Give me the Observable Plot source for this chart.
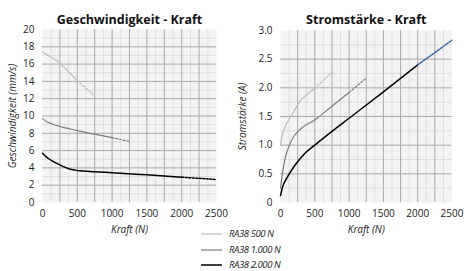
<!DOCTYPE html>
<html>
<head>
<meta charset="utf-8">
<script src="https://cdn.jsdelivr.net/npm/d3@7"></script>
<script src="https://cdn.jsdelivr.net/npm/@observablehq/plot@0.6"></script>
<style>
  body { margin:0; width:464px; height:271px; position:relative; background:#fff; font-family:"Open Sans", sans-serif; overflow:hidden; }
  #left { position:absolute; left:0; top:0; }
  #right { position:absolute; left:232px; top:0; }
  #legend { position:absolute; left:201px; top:226px; font-size:9.5px; font-style:italic; color:#222; letter-spacing:-0.4px; line-height:12px; }
  #legend .row { display:flex; align-items:center; height:15.8px; }
  #legend svg { margin-right:7px; }
</style>
</head>
<body>
<div id="left"></div>
<div id="right"></div>
<div id="legend"></div>
<script>
// ---- labels & ticks ----
const leftTitle = "Geschwindigkeit - Kraft";
const rightTitle = "Stromstärke - Kraft";
const xLabel = "Kraft (N)";
const leftYLabel = "Geschwindigkeit (mm/s)";
const rightYLabel = "Stromstärke (A)";
const kraftTicks = [0, 500, 1000, 1500, 2000, 2500];
const speedTicks = [0, 2, 4, 6, 8, 10, 12, 14, 16, 18, 20];
const currentTicks = [0, 0.5, 1.0, 1.5, 2.0, 2.5, 3.0];

// ---- series ----
const seriesNames = ["RA38 500 N", "RA38 1.000 N", "RA38 2.000 N"];
const ratedForce = [500, 1000, 2000];

// Geschwindigkeit (mm/s) vs Kraft (N)
const speed500F = [0, 125, 250, 375, 500, 625, 750];
const speed500V = [17.4, 16.8, 16.1, 15.1, 14.1, 13.2, 12.3];
const speed1000F = [0, 50, 100, 200, 350, 500, 750, 1000, 1250];
const speed1000V = [9.7, 9.4, 9.2, 8.9, 8.6, 8.3, 7.9, 7.5, 7.05];
const speed2000F = [0, 50, 100, 200, 300, 400, 500, 750, 1000, 1500, 2000, 2500];
const speed2000V = [5.7, 5.3, 5.0, 4.55, 4.15, 3.85, 3.7, 3.55, 3.45, 3.2, 2.93, 2.65];

// Stromstärke (A) vs Kraft (N)
const cur500F = [0, 20, 60, 130, 200, 280, 400, 500, 750];
const cur500V = [1.0, 1.15, 1.3, 1.46, 1.6, 1.76, 1.9, 1.99, 2.27];
const cur1000F = [0, 15, 60, 150, 300, 500, 750, 1000, 1250];
const cur1000V = [0.25, 0.4, 0.73, 1.06, 1.29, 1.44, 1.68, 1.92, 2.17];
const cur2000F = [0, 30, 90, 230, 350, 500, 750, 1000, 1500, 2000, 2500];
const cur2000V = [0.12, 0.27, 0.42, 0.68, 0.85, 1.0, 1.24, 1.47, 1.93, 2.4, 2.83];

// ---- styles ----
const lineColors = ["#bdbdbd", "#7d7d7d", "#000000"];
const lineWidths = [1.2, 1.2, 1.5];
const bg = "#f3f3f3", minorGrid = "#dedede", majorGrid = "#a9a9a9";

function seriesMarks(F, V, rated, color, width, dashColor, dash) {
  const pts = F.map((f, i) => ({f, v: V[i]}));
  return [
    Plot.line(pts.filter(d => d.f <= rated), {x: "f", y: "v", stroke: color, strokeWidth: width, curve: "monotone-x"}),
    Plot.line(pts.filter(d => d.f >= rated), {x: "f", y: "v", stroke: dashColor, strokeWidth: width, strokeDasharray: dash, curve: "monotone-x"})
  ];
}

const kraftMinor = d3.range(125, 2500, 250);
const kraftMajor = d3.range(250, 2500, 250);

function makeChart({title, yLabel, yDomain, yTicks, yFormat, yMinor, yMajor, series, marginLeft, marginRight, marginTop, yLabelDx, dashLast}) {
  return Plot.plot({
    width: 232, height: 245,
    marginLeft, marginRight, marginTop, marginBottom: 43,
    style: {fontFamily: "'Open Sans', sans-serif", fontSize: "10px", color: "#222", background: "transparent", overflow: "visible"},
    x: {domain: [0, 2500], ticks: kraftTicks, tickSize: 0, tickPadding: 7, tickFormat: d => String(d), label: null},
    y: {domain: yDomain, ticks: yTicks, tickSize: 0, tickPadding: 8, tickFormat: yFormat, label: null},
    marks: [
      Plot.frame({fill: bg, stroke: null}),
      Plot.ruleX(kraftMinor, {stroke: minorGrid, strokeWidth: 1}),
      Plot.ruleY(yMinor, {stroke: minorGrid, strokeWidth: 1}),
      Plot.ruleX(kraftMajor, {stroke: majorGrid, strokeWidth: 1}),
      Plot.ruleY(yMajor, {stroke: majorGrid, strokeWidth: 1}),
      ...series.flatMap(([F, V], i) => seriesMarks(F, V, ratedForce[i], lineColors[i], lineWidths[i],
          i === 2 ? dashLast : lineColors[i], i === 2 ? "2,1.5" : "2,1.8")),
      Plot.text([title], {frameAnchor: "top", dy: -marginTop + 15, fontWeight: "bold", fontSize: 12.5, fill: "#111"}),
      Plot.text([xLabel], {frameAnchor: "bottom", dy: 30, fontStyle: "italic", fontSize: 10, fill: "#222"}),
      Plot.text([yLabel], {frameAnchor: "left", textAnchor: "middle", dx: yLabelDx, rotate: -90, fontStyle: "italic", fontSize: 10, fill: "#222"})
    ]
  });
}

const left = makeChart({
  title: leftTitle, yLabel: leftYLabel, yDomain: [0, 20], yTicks: speedTicks, yFormat: d => String(d),
  yMinor: d3.range(1, 20, 2), yMajor: d3.range(2, 20, 2),
  series: [[speed500F, speed500V], [speed1000F, speed1000V], [speed2000F, speed2000V]],
  marginLeft: 42, marginRight: 16, marginTop: 29, yLabelDx: -30, dashLast: "#000"
});
document.getElementById("left").appendChild(left);

const right = makeChart({
  title: rightTitle, yLabel: rightYLabel, yDomain: [0, 3], yTicks: currentTicks, yFormat: d => d === 0 ? "0" : d.toFixed(1),
  yMinor: d3.range(0.25, 3, 0.5), yMajor: d3.range(0.5, 3, 0.5),
  series: [[cur500F, cur500V], [cur1000F, cur1000V], [cur2000F, cur2000V]],
  marginLeft: 48, marginRight: 12.5, marginTop: 30, yLabelDx: -37.5, dashLast: "#3a62a0"
});
document.getElementById("right").appendChild(right);

// ---- legend ----
const legend = d3.select("#legend");
seriesNames.forEach((name, i) => {
  const row = legend.append("div").attr("class", "row");
  const s = row.append("svg").attr("width", 21).attr("height", 4);
  s.append("line").attr("x1", 0).attr("x2", 21).attr("y1", 2).attr("y2", 2)
    .attr("stroke", lineColors[i]).attr("stroke-width", lineWidths[i]);
  row.append("span").text(name);
});
</script>
</body>
</html>
